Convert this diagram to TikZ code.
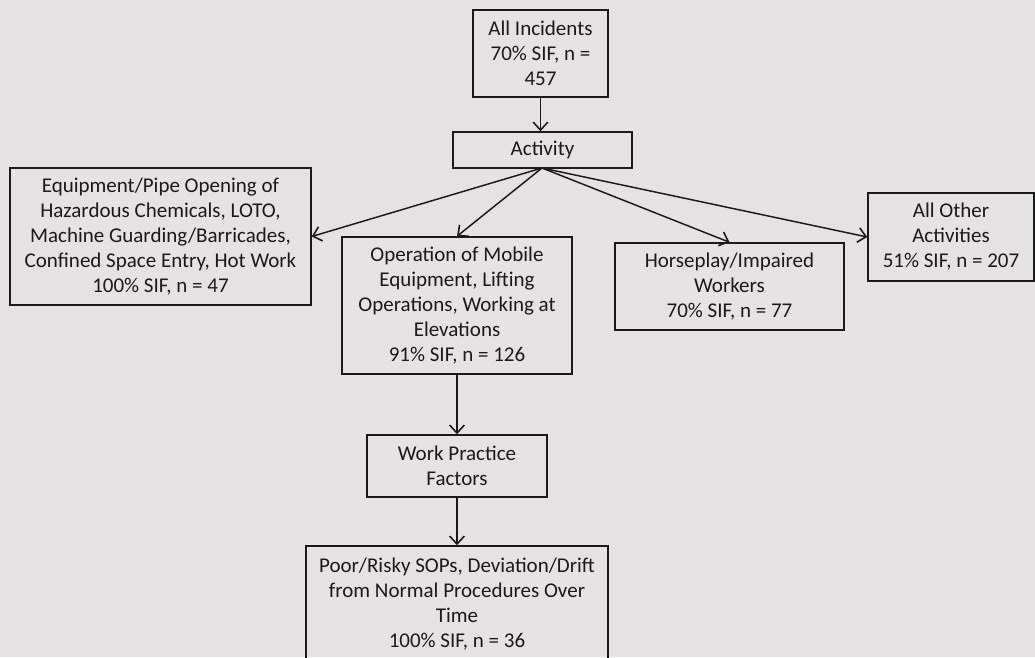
\documentclass[tikz,border=0pt]{standalone}
\usepackage{fontspec}
\setmainfont{Carlito}
\usetikzlibrary{arrows.meta}
\definecolor{bg}{RGB}{228,226,226}
\definecolor{ink}{RGB}{26,26,26}
\tikzset{
  box/.style={draw=ink, line width=1.1pt, inner sep=0pt, align=center,
    font=\fontsize{15.75}{18.75}\selectfont, text=ink},
  conn/.style={draw=ink, line width=1.1pt,
    -{Straight Barb[length=6pt,width=11pt,line width=1.2pt]}}
}
\begin{document}
\begin{tikzpicture}[x=0.75pt,y=-0.75pt]
\fill[bg] (0,0) rectangle (1035,657);
\useasboundingbox (0,0) rectangle (1035,657);
\clip (0,0) rectangle (1035,657);
\node[box, minimum width=101.25pt, minimum height=65.25pt] (inc) at (540.5,53.5)
  {All Incidents\\70\% SIF, n =\\457};
\node[box, minimum width=134.25pt, minimum height=27pt] (act) at (542.5,150)
  {Activity};
\node[box, minimum width=225.75pt, minimum height=102.75pt] (eq) at (160.5,236.5)
  {Equipment/Pipe Opening of\\Hazardous Chemicals, LOTO,\\Machine Guarding/Barricades,\\Confined Space Entry, Hot Work\\100\% SIF, n = 47};
\node[box, minimum width=172.5pt, minimum height=102.75pt] (op) at (457,305.5)
  {Operation of Mobile\\Equipment, Lifting\\Operations, Working at\\Elevations\\91\% SIF, n = 126};
\node[box, minimum width=171.75pt, minimum height=65.25pt] (hp) at (729.5,286.5)
  {Horseplay/Impaired\\Workers\\70\% SIF, n = 77};
\node[box, minimum width=124.5pt, minimum height=66pt] (ao) at (951,237)
  {All Other\\Activities\\51\% SIF, n = 207};
\node[box, minimum width=135pt, minimum height=46.5pt] (wp) at (457,466)
  {Work Practice\\Factors};
\node[box, minimum width=226.5pt, minimum height=87pt] (bt) at (457,604)
  {Poor/Risky SOPs, Deviation/Drift\\from Normal Procedures Over\\Time\\100\% SIF, n = 36};
\coordinate (hub) at (542,168);
\draw[conn] (inc.south) -- (inc.south |- act.north);
\draw[conn] (hub) -- (eq.east);
\draw[conn] (hub) -- (op.north);
\draw[conn] (hub) -- (hp.north);
\draw[conn] (hub) -- (ao.west);
\draw[conn] (op.south) -- (wp.north);
\draw[conn] (wp.south) -- (bt.north);
\end{tikzpicture}
\end{document}
